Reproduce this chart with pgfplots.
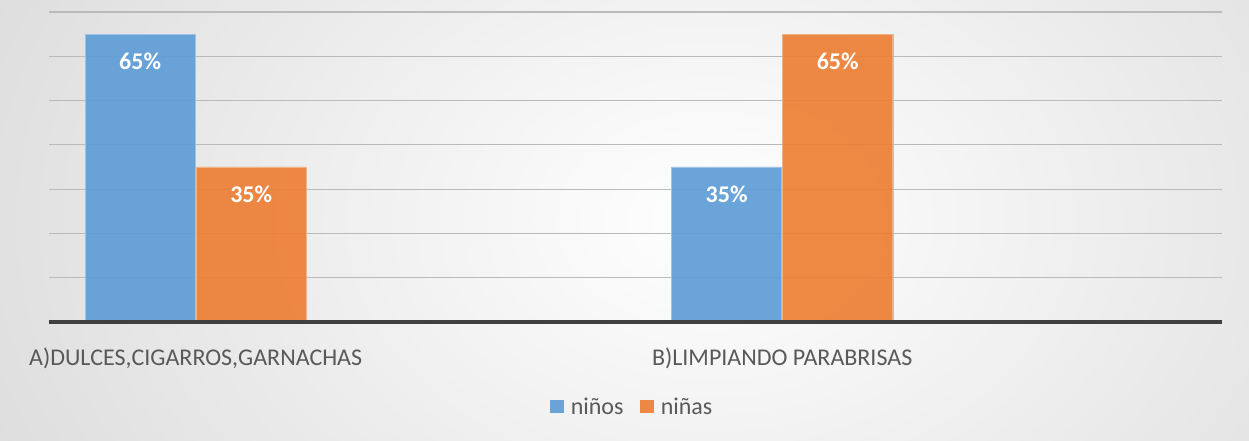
\documentclass[border=0pt]{standalone}
\usepackage{pgfplots}
\pgfplotsset{compat=1.18}
\usepackage{fontspec}
\setmainfont{Carlito}
\definecolor{cblue}{HTML}{5B9BD5}
\definecolor{corange}{HTML}{ED7D31}
\definecolor{ctext}{HTML}{595959}
\newcommand{\bigf}{\fontsize{24bp}{28bp}\selectfont}
\begin{document}
\begin{tikzpicture}[x=1bp,y=1bp]
\begin{scope}
\clip (0,0) rectangle (1249,441);
\shade[inner color=white, outer color=black!26] (710,221) ellipse (1560 and 1120);
\end{scope}
\begin{axis}[
  at={(49bp,119bp)}, anchor=south west,
  scale only axis, width=1173bp, height=310bp,
  xmin=-0.25, xmax=1.75, ymin=0, ymax=70,
  axis line style={draw=none},
  tick style={draw=none},
  xtick={0,1},
  xticklabels={{A)DULCES,CIGARROS,GARNACHAS},{B)LIMPIANDO PARABRISAS}},
  xticklabel style={font=\bigf, text=ctext, anchor=base, yshift=-39bp},
  ytick={10,20,...,70}, yticklabels={},
  ymajorgrids, grid style={black!27, line width=1.2bp},
  ybar, bar width=0.1877,
  clip=false,
  /pgf/number format/assume math mode=true,
  nodes near coords={\pgfmathprintnumber{\pgfplotspointmeta}\%},
  every node near coord/.append style={anchor=center, yshift=-27bp, font=\bigf\bfseries, text=white, fill opacity=1, text opacity=1},
  legend style={at={(0.497,-0.274)}, anchor=center, draw=none, fill=none, font=\bigf, text=ctext,
    /tikz/every even column/.append style={column sep=14bp}},
  legend columns=2,
  legend image code/.code={\fill[#1, draw=none, fill opacity=0.9] (0bp,-6bp) rectangle (14bp,7bp); \path (19bp,0bp);},
]
\addplot[fill=cblue, fill opacity=0.9, draw=cblue!60!white, bar shift=-0.0947] coordinates {(0,65) (1,35)};
\addplot[fill=corange, fill opacity=0.9, draw=corange!60!white, bar shift=0.0947] coordinates {(0,35) (1,65)};
\legend{niños, niñas}
\draw[line width=3.5bp, black!75] (rel axis cs:0,0) -- (rel axis cs:1,0);
\end{axis}
\end{tikzpicture}
\end{document}
